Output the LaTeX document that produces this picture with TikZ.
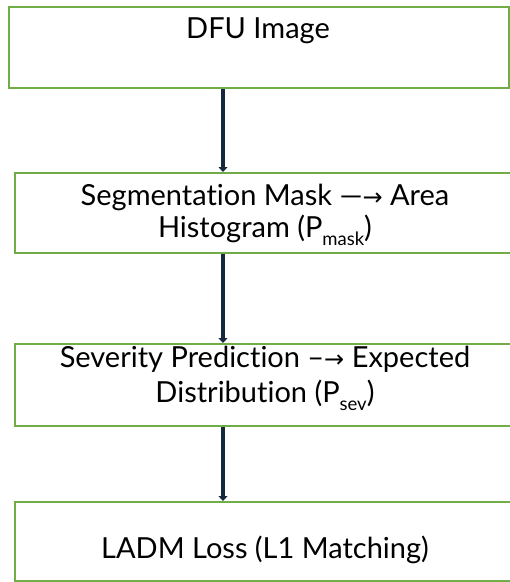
\documentclass[tikz,border=0pt]{standalone}
\usepackage{fontspec}
\setmainfont{Lato}[RawFeature={-liga;-dlig;-clig;-calt}]
\newfontfamily\arrowfont{DejaVu Sans}
\usetikzlibrary{arrows.meta}
\definecolor{boxgreen}{HTML}{70AD47}
\definecolor{flownavy}{HTML}{15283C}
\newcommand{\subtxt}[1]{\raisebox{-0.28em}{\fontsize{18.5}{18.5}\selectfont #1}}
\newcommand{\rarrow}{{\arrowfont\fontsize{24}{24}\selectfont →}}
% keeps "t" and "i" as separate glyphs
\newcommand{\ti}{t\kern0pt i}

\begin{document}
\begin{tikzpicture}[x=1pt,y=-1pt,
  stagebox/.style={draw=boxgreen, line width=2pt, fill=white, inner sep=0pt,
    minimum width=500pt},
  steptext/.style={anchor=base, inner sep=0pt, font=\fontsize{29}{34}\selectfont},
  flow/.style={draw=flownavy, line width=3.6pt,
    -{Triangle[length=5pt,width=9pt]}}
]
\useasboundingbox (0,0) rectangle (510,582);
\clip (0,0) rectangle (510,582);
\fill[white] (0,0) rectangle (510,582);

% stage boxes
\node[stagebox, minimum height=81pt] (b1) at (259,47.5) {};
\node[stagebox, minimum height=80pt] (b2) at (265,213) {};
\node[stagebox, minimum height=82pt] (b3) at (265,385) {};
\node[stagebox, minimum height=79pt] (b4) at (265,541.5) {};

% box texts
\node[steptext] (t1) at (258,38) {DFU Image};
\node[steptext] (t2a) at (265,205) {Segmenta\ti on Mask —\rarrow{} Area};
\node[steptext] (t2b) at (265,237) {Histogram (P\subtxt{mask})};
\node[steptext] (t3a) at (265,367) {Severity Predic\ti on –\rarrow{} Expected};
\node[steptext] (t3b) at (265,402) {Distribu\ti on (P\subtxt{sev})};
\node[steptext] (t4) at (265,558) {LADM Loss (L1 Matching)};

% flow arrows
\draw[flow] ([xshift=-36pt]b1.south) -- ([xshift=-42pt]b2.north);
\draw[flow] ([xshift=-42pt]b2.south) -- ([xshift=-42pt]b3.north);
\draw[flow] ([xshift=-42pt]b3.south) -- ([xshift=-42pt]b4.north);
\end{tikzpicture}
\end{document}
